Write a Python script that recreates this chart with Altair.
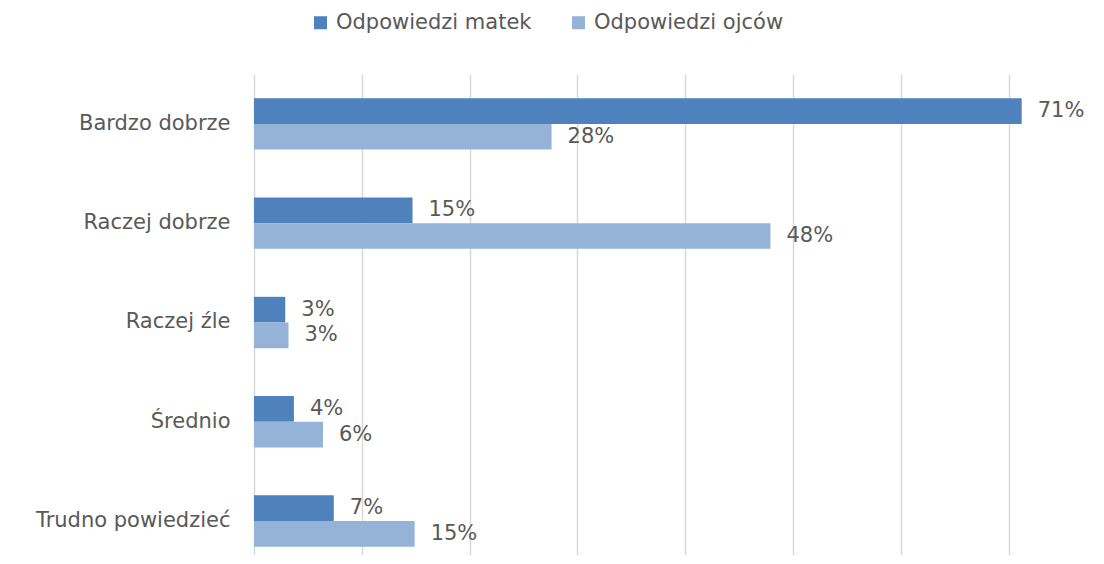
import altair as alt
import pandas as pd

categories = ["Bardzo dobrze", "Raczej dobrze", "Raczej źle", "Średnio", "Trudno powiedzieć"]
series_names = ["Odpowiedzi matek", "Odpowiedzi ojców"]
matki = [0.712, 0.147, 0.029, 0.037, 0.074]
ojcowie = [0.276, 0.479, 0.032, 0.064, 0.149]
colors = ["#4F81BD", "#95B3D7"]

rows = []
for c, m, o in zip(categories, matki, ojcowie):
    rows.append({"kat": c, "seria": series_names[0], "v": m})
    rows.append({"kat": c, "seria": series_names[1], "v": o})
df = pd.DataFrame(rows)

FONT = "DejaVu Sans"
GRAY = "#595959"
FS = 21

x = alt.X("v:Q", scale=alt.Scale(domain=[0, 0.78], nice=False),
          axis=alt.Axis(values=[0, 0.1, 0.2, 0.3, 0.4, 0.5, 0.6, 0.7], labels=False,
                        ticks=False, domain=False, title=None,
                        gridColor="#D9D9D9", gridWidth=1.5))
y = alt.Y("kat:N", sort=categories,
          scale=alt.Scale(paddingInner=0.483, paddingOuter=0.164, align=0.745),
          axis=alt.Axis(title=None, ticks=False, domain=False, labelPadding=24,
                        labelFontSize=FS, labelColor=GRAY, labelFont=FONT, grid=False,
                        labelLimit=400))
yoff = alt.YOffset("seria:N", sort=series_names, scale=alt.Scale(paddingInner=0, paddingOuter=0))

bars = alt.Chart(df).mark_bar().encode(
    x=x, y=y, yOffset=yoff,
    color=alt.Color("seria:N", sort=series_names,
                    scale=alt.Scale(domain=series_names, range=colors),
                    legend=alt.Legend(orient="none", legendX=56, legendY=-62, direction="horizontal",
                                      title=None, symbolType="square", symbolSize=170,
                                      symbolStrokeWidth=0, labelFontSize=FS, labelColor=GRAY,
                                      labelFont=FONT, columnPadding=36, labelOffset=5,
                                      labelLimit=400))
)

text = alt.Chart(df).mark_text(align="left", baseline="middle", dx=16, fontSize=FS,
                               color=GRAY, font=FONT).encode(
    x=x, y=y, yOffset=yoff,
    text=alt.Text("v:Q", format=".0%")
)

chart = alt.layer(bars, text).properties(
    width=841, height=481,
    autosize=alt.AutoSizeParams(type="none"),
    padding={"left": 246, "top": 66, "right": 0, "bottom": 0},
).configure(background="white").configure_view(strokeWidth=0, stroke=None)

chart.save("out.html", embed_options={"renderer": "svg", "actions": False})
